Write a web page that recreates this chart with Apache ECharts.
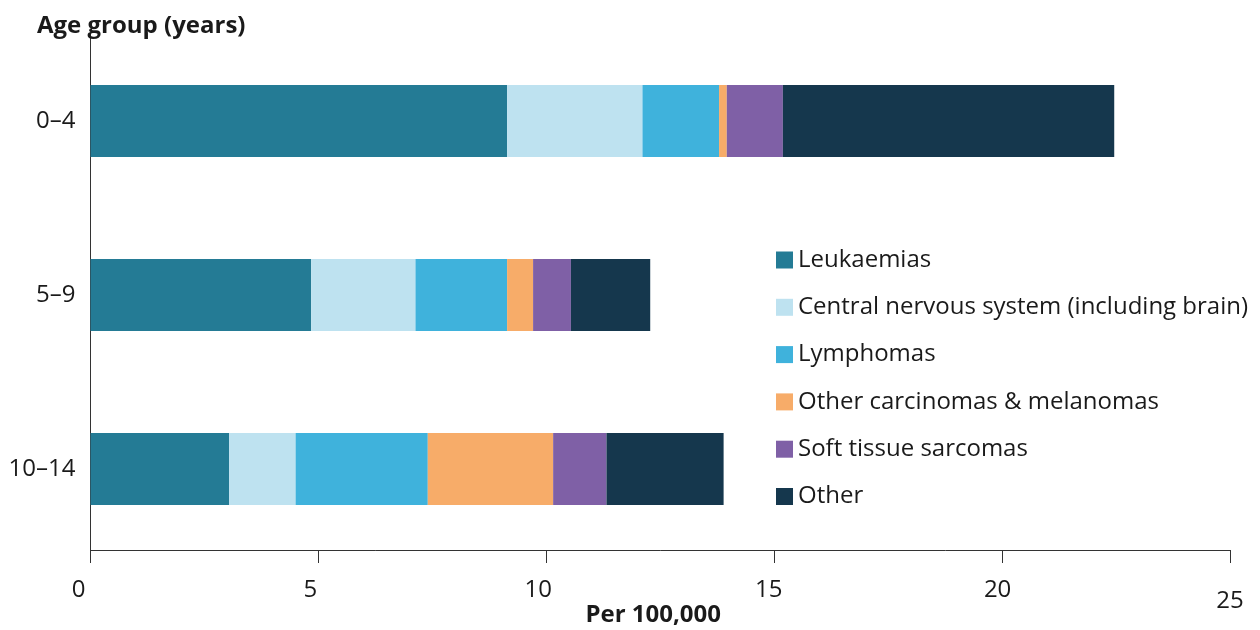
<!DOCTYPE html>
<html>
<head>
<meta charset="utf-8">
<script src="https://cdn.jsdelivr.net/npm/echarts@6/dist/echarts.min.js"></script>
<style>html,body{margin:0;padding:0;background:#fff}#c{width:1260px;height:630px}</style>
</head>
<body>
<div id="c"></div>
<script>
const categories = ['0–4', '5–9', '10–14'];
const seriesNames = ['Leukaemias', 'Central nervous system (including brain)', 'Lymphomas', 'Other carcinomas & melanomas', 'Soft tissue sarcomas', 'Other'];
const leukaemias = [9.14, 4.84, 3.04];
const cns = [2.97, 2.29, 1.46];
const lymphomas = [1.68, 2.01, 2.90];
const otherCarcinomas = [0.17, 0.57, 2.75];
const softTissue = [1.23, 0.83, 1.17];
const other = [7.27, 1.74, 2.57];
const xTicks = [0, 5, 10, 15, 20, 25];
const colors = ['#247B95', '#BEE2F0', '#3FB2DC', '#F7AC69', '#7F60A6', '#15374D'];

const values = [leukaemias, cns, lymphomas, otherCarcinomas, softTissue, other];
const font = 'Open Sans';
const tickStyle = (pr, pt) => ({ fontFamily: font, fontSize: 24, color: '#1a1a1a', padding: [pt, pr, 0, 0] });
const chart = echarts.init(document.getElementById('c'));
chart.setOption({
  animation: false,
  textStyle: { fontFamily: font },
  title: {
    text: 'Age group (years)', left: 32, top: 9,
    textStyle: { fontFamily: font, fontSize: 24, fontWeight: 'bold', color: '#1a1a1a' }
  },
  legend: {
    orient: 'vertical', left: 771, top: 243,
    itemWidth: 17, itemHeight: 17, itemGap: 23.3,
    icon: 'rect',
    textStyle: { fontFamily: font, fontSize: 24, lineHeight: 24, color: '#1a1a1a', padding: [0, 0, 0, 0] },
    data: seriesNames
  },
  grid: { left: 90.5, right: 30, top: 34, height: 522, outerBoundsMode: 'none' },
  xAxis: {
    type: 'value', min: 0, max: 25, interval: 5, offset: -6,
    name: 'Per 100,000', nameLocation: 'middle', nameGap: 53, nameMoveOverlap: false,
    nameTextStyle: { fontFamily: font, fontSize: 24, fontWeight: 'bold', color: '#1a1a1a', padding: [0, 14, 0, 0] },
    axisLine: { show: true, lineStyle: { color: '#333', width: 1 } },
    axisTick: { show: true, length: 13, lineStyle: { color: '#333' } },
    splitLine: { show: false },
    axisLabel: {
      fontFamily: font, fontSize: 24, color: '#1a1a1a', margin: 28,
      customValues: xTicks,
      formatter: v => '{t' + v + '|' + v + '}',
      rich: {
        t0: tickStyle(24, 0), t5: tickStyle(16, 0), t10: tickStyle(16, 0),
        t15: tickStyle(11, 0), t20: tickStyle(9, 0), t25: tickStyle(0, 11)
      }
    }
  },
  yAxis: {
    type: 'category', inverse: true, data: categories,
    axisLine: { show: true, lineStyle: { color: '#333', width: 1 } },
    axisTick: { show: false },
    axisLabel: { fontFamily: font, fontSize: 24, color: '#1a1a1a', margin: 15 }
  },
  series: seriesNames.map((n, i) => ({
    name: n, type: 'bar', stack: 'total', barWidth: 72,
    itemStyle: { color: colors[i] },
    data: values[i]
  }))
});
</script>
</body>
</html>
